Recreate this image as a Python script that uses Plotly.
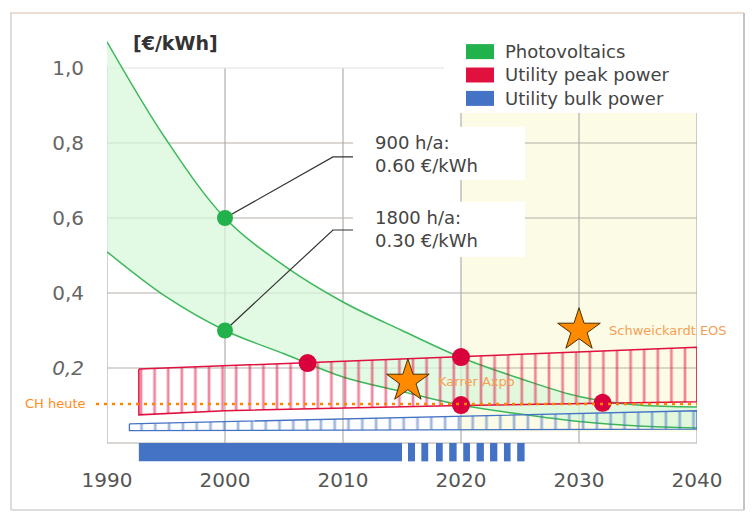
import plotly.graph_objects as go

# ---------------- data ----------------
pv_years = [1990, 1995, 2000, 2005, 2010, 2015, 2020, 2025, 2030, 2035, 2040]
pv_900h = [1.07, 0.81, 0.60, 0.473, 0.376, 0.30, 0.228, 0.172, 0.124, 0.101, 0.096]
pv_1800h = [0.51, 0.39, 0.30, 0.238, 0.176, 0.137, 0.101, 0.077, 0.057, 0.045, 0.040]

peak_years = [1992.7, 2000, 2020, 2040]
peak_upper = [0.197, 0.206, 0.229, 0.255]
peak_lower = [0.075, 0.086, 0.100, 0.110]

bulk_years = [1991.9, 2040]
bulk_upper = [0.051, 0.086]
bulk_lower = [0.033, 0.037]

ch_heute = 0.104

pv_dot_years = [2000, 2000]
pv_dot_values = [0.60, 0.30]
pv_dot_labels = ["900 h/a:<br>0.60 €/kWh", "1800 h/a:<br>0.30 €/kWh"]

cross_years = [2007, 2020, 2020, 2032]
cross_values = [0.213, 0.229, 0.101, 0.107]

star_years = [2015.5, 2030.0]
star_values = [0.165, 0.301]
star_labels = ["Karrer Axpo", "Schweickardt EOS"]

bar_starts = [1992.7, 2015.51, 2016.64, 2017.88, 2019.0, 2020.19, 2021.32, 2022.46, 2023.64, 2024.76]
bar_ends = [2015.0, 2016.10, 2017.22, 2018.45, 2019.63, 2020.76, 2021.94, 2023.08, 2024.20, 2025.39]
bar_depth = -0.049

x_ticks = [1990, 2000, 2010, 2020, 2030, 2040]
x_tick_text = ["1990", "2000", "2010", "2020", "2030", "2040"]
y_ticks = [0.2, 0.4, 0.6, 0.8, 1.0]
y_tick_text = ["<i>0,2</i>", "0,4", "0,6", "0,8", "1,0"]

legend_names = ["Photovoltaics", "Utility peak power", "Utility bulk power"]

# ---------------- style ----------------
GREEN = "#22b24c"
GREEN_LINE = "#3cb85a"
RED = "#e0103f"
BLUE = "#4472c4"
ORANGE = "#ff8400"
ORANGE_TXT = "#f7a055"
GRID = "#b3aea8"
FONT = "DejaVu Sans"

legend_colors = [GREEN, RED, BLUE]

L, R, T, B = 107, 55, 20, 53
W, H = 752, 515
PW, PH = W - L - R, H - T - B
Y_RANGE = [-0.0507, 1.128]


def px(x):
    return (x - L) / PW


def py(y):
    return (H - B - y) / PH


fig = go.Figure()

# Photovoltaics band
fig.add_trace(go.Scatter(x=pv_years, y=pv_1800h, mode="lines", line=dict(color=GREEN_LINE, width=1.5, shape="spline"),
                         hoverinfo="skip"))
fig.add_trace(go.Scatter(x=pv_years, y=pv_900h, mode="lines", line=dict(color=GREEN_LINE, width=1.5, shape="spline"),
                         fill="tonexty", fillcolor="rgba(215,246,218,0.72)", hoverinfo="skip"))

# Utility peak power band (hatched)
fig.add_trace(go.Scatter(
    x=peak_years + peak_years[::-1] + [peak_years[0]],
    y=peak_upper + peak_lower[::-1] + [peak_upper[0]],
    mode="lines", line=dict(color=RED, width=1.5), fill="toself", fillcolor="rgba(0,0,0,0)",
    fillpattern=dict(shape="|", fgcolor=RED, bgcolor="rgba(0,0,0,0)", size=13.6, solidity=0.2, fillmode="overlay"),
    hoverinfo="skip"))

# Utility bulk power band (hatched)
fig.add_trace(go.Scatter(
    x=bulk_years + bulk_years[::-1] + [bulk_years[0]],
    y=bulk_upper + bulk_lower[::-1] + [bulk_upper[0]],
    mode="lines", line=dict(color=BLUE, width=1.3), fill="toself", fillcolor="rgba(0,0,0,0)",
    fillpattern=dict(shape="|", fgcolor=BLUE, bgcolor="rgba(0,0,0,0)", size=13.8, solidity=0.2, fillmode="overlay"),
    hoverinfo="skip"))

# bottom bars
fig.add_trace(go.Bar(
    x=[(a + b) / 2 for a, b in zip(bar_starts, bar_ends)],
    width=[b - a for a, b in zip(bar_starts, bar_ends)],
    y=[bar_depth] * len(bar_starts), base=0,
    marker=dict(color=BLUE, line=dict(width=0)), hoverinfo="skip"))

# leader lines from PV dots to the labels
label_x0 = 2010.85
bend_x = 2009.15
label_line_y = [0.763, 0.568]
for xd, yd, yl in zip(pv_dot_years, pv_dot_values, label_line_y):
    fig.add_trace(go.Scatter(x=[xd, bend_x, label_x0], y=[yd, yl, yl], mode="lines",
                             line=dict(color="#333333", width=1.2), hoverinfo="skip"))

# dots
fig.add_trace(go.Scatter(x=pv_dot_years, y=pv_dot_values, mode="markers",
                         marker=dict(color=GREEN, size=16), hoverinfo="skip"))
fig.add_trace(go.Scatter(x=cross_years, y=cross_values, mode="markers",
                         marker=dict(color="#d9003b", size=18), hoverinfo="skip"))

# stars
fig.add_trace(go.Scatter(x=star_years, y=star_values, mode="markers",
                         marker=dict(symbol="star", color="#ff8a00", size=32,
                                     line=dict(color="#4a3000", width=1)), hoverinfo="skip"))

annotations = []
for xs, ys, t in zip(star_years, star_values, star_labels):
    annotations.append(dict(x=xs + 2.4, y=ys, xref="x", yref="y", text=t, showarrow=False,
                            xanchor="left", yanchor="middle", font=dict(family=FONT, size=13, color=ORANGE_TXT)))

# ---------------- shapes ----------------
shapes = []
# yellow future region
shapes.append(dict(type="rect", xref="x", yref="y", x0=2020, x1=2040, y0=0.03, y1=1.0,
                   fillcolor="#fcfbe5", line=dict(width=0), layer="below"))
# gridlines
for xv in x_ticks:
    shapes.append(dict(type="line", xref="x", yref="y", x0=xv, x1=xv, y0=0, y1=1.0,
                       line=dict(color=GRID, width=1.2), layer="below"))
for yv in [0] + y_ticks:
    shapes.append(dict(type="line", xref="x", yref="y", x0=1990, x1=2040, y0=yv, y1=yv,
                       line=dict(color="#e2e2e2" if yv == 1.0 else GRID, width=1.2), layer="below"))
# white boxes (legend area and label boxes)
shapes.append(dict(type="rect", xref="x", yref="y", x0=2018.55, x1=2041, y0=0.88, y1=1.13,
                   fillcolor="white", line=dict(width=0), layer="below"))
label_boxes = [(0.843, 0.701), (0.643, 0.496)]
for y1, y0 in label_boxes:
    shapes.append(dict(type="rect", xref="x", yref="y", x0=label_x0, x1=2025.42, y0=y0, y1=y1,
                       fillcolor="white", line=dict(width=0), layer="below"))
# CH heute dotted line
shapes.append(dict(type="line", xref="paper", yref="y", x0=px(96), x1=1.0, y0=ch_heute, y1=ch_heute,
                   line=dict(color=ORANGE, width=2.5, dash="3px,5px"), layer="above"))
# outer frame
shapes.append(dict(type="line", xref="paper", yref="paper", x0=px(10), x1=px(744), y0=py(13), y1=py(13),
                   line=dict(color="#e6d2c4", width=1.5)))
shapes.append(dict(type="line", xref="paper", yref="paper", x0=px(11), x1=px(11), y0=py(13), y1=py(510),
                   line=dict(color="#d2d2d2", width=1.5)))
shapes.append(dict(type="line", xref="paper", yref="paper", x0=px(11), x1=px(744), y0=py(510), y1=py(510),
                   line=dict(color="#d2d2d2", width=1.5)))
shapes.append(dict(type="line", xref="paper", yref="paper", x0=px(744), x1=px(744), y0=py(13), y1=py(510),
                   line=dict(color="#c4c4c4", width=2)))

# legend: swatches + one multi-line text block
LEG_FONT = 18
leg_step = 1.3 * LEG_FONT
leg_center = 75
for i, c in enumerate(legend_colors):
    yc = leg_center + (i - 1) * leg_step
    shapes.append(dict(type="rect", xref="paper", yref="paper", x0=px(466), x1=px(494),
                       y0=py(yc + 7.5), y1=py(yc - 7.5), fillcolor=c, line=dict(width=0)))
annotations.append(dict(xref="paper", yref="paper", x=px(503), y=py(leg_center), text="<br>".join(legend_names),
                        showarrow=False, xanchor="left", yanchor="middle", align="left",
                        font=dict(family=FONT, size=LEG_FONT, color="#444444")))
# PV labels
for (y1, y0), t in zip(label_boxes, pv_dot_labels):
    annotations.append(dict(xref="x", yref="y", x=label_x0 + 1.7, y=(y0 + y1) / 2, text=t, showarrow=False,
                            xanchor="left", yanchor="middle", align="left",
                            font=dict(family=FONT, size=18, color="#444444")))
# unit label
annotations.append(dict(xref="paper", yref="paper", x=px(175), y=py(43), text="<b>[€/kWh]</b>", showarrow=False,
                        xanchor="center", yanchor="middle", font=dict(family=FONT, size=19, color="#333333")))
# CH heute
annotations.append(dict(xref="paper", yref="y", x=px(88), y=ch_heute, text="CH heute", showarrow=False,
                        xanchor="right", yanchor="middle", font=dict(family=FONT, size=13, color="#ff8c1a")))

fig.update_layout(
    width=W, height=H, margin=dict(l=L, r=R, t=T, b=B),
    paper_bgcolor="white", plot_bgcolor="white", showlegend=False,
    font=dict(family=FONT),
    shapes=shapes, annotations=annotations, barmode="overlay",
    xaxis=dict(range=[1990, 2040], tickvals=x_ticks, ticktext=x_tick_text, showgrid=False, zeroline=False,
               showline=False, ticks="", tickfont=dict(family=FONT, size=20, color="#555555"),
               ticklabelstandoff=4, fixedrange=True),
    yaxis=dict(range=Y_RANGE, tickvals=y_ticks, ticktext=y_tick_text, showgrid=False, zeroline=False,
               showline=False, ticks="", tickfont=dict(family=FONT, size=20, color="#666666"),
               ticklabelstandoff=22, fixedrange=True),
)

fig.write_html("out.html", config={"displayModeBar": False},
               post_script="document.body.style.margin='0';")
